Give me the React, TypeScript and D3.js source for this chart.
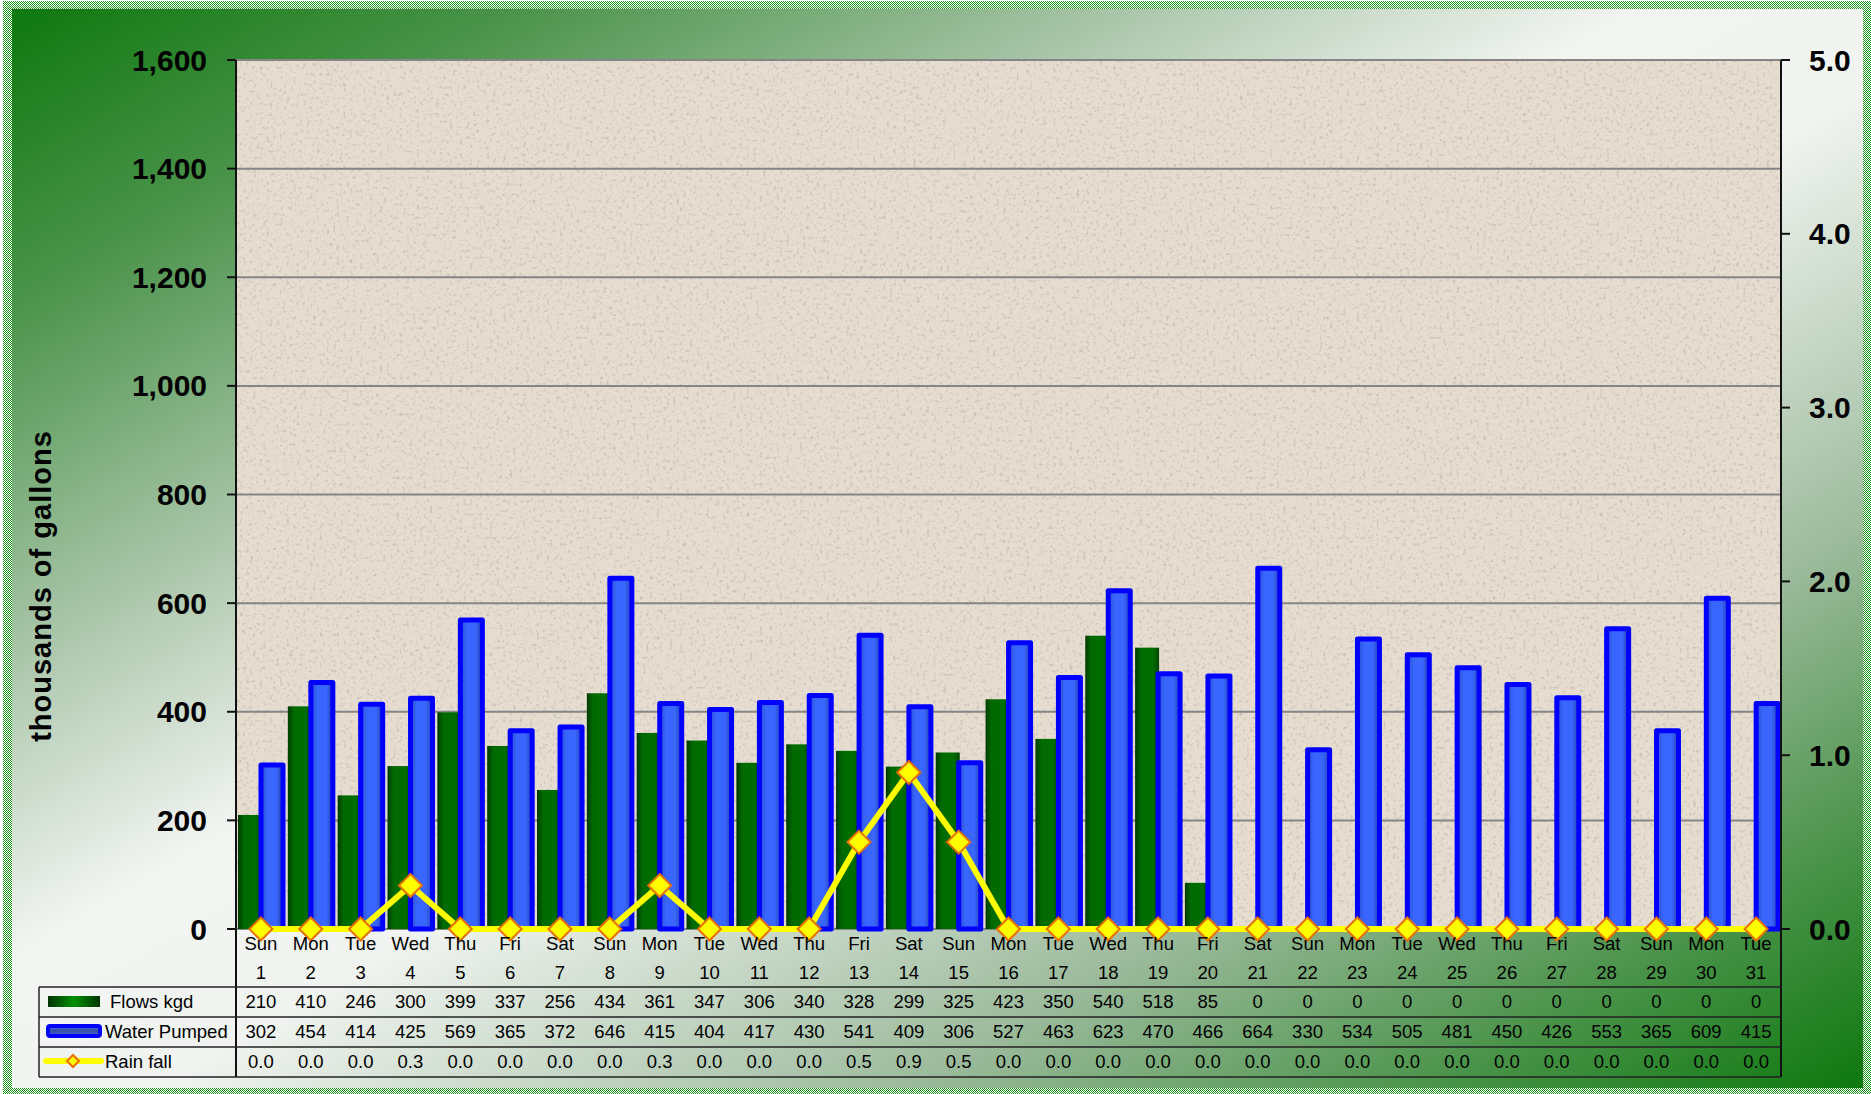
import React from 'react';
import * as d3 from 'd3';

// month of daily readings
const days = [
  'Sun', 'Mon', 'Tue', 'Wed', 'Thu', 'Fri', 'Sat',
  'Sun', 'Mon', 'Tue', 'Wed', 'Thu', 'Fri', 'Sat',
  'Sun', 'Mon', 'Tue', 'Wed', 'Thu', 'Fri', 'Sat',
  'Sun', 'Mon', 'Tue', 'Wed', 'Thu', 'Fri', 'Sat',
  'Sun', 'Mon', 'Tue',
];
const dates = [
  '1', '2', '3', '4', '5', '6', '7', '8', '9', '10', '11', '12', '13', '14', '15', '16',
  '17', '18', '19', '20', '21', '22', '23', '24', '25', '26', '27', '28', '29', '30', '31',
];
const flows = [
  210, 410, 246, 300, 399, 337, 256, 434, 361, 347, 306, 340, 328, 299, 325, 423,
  350, 540, 518, 85, 0, 0, 0, 0, 0, 0, 0, 0, 0, 0, 0,
];
const pumped = [
  302, 454, 414, 425, 569, 365, 372, 646, 415, 404, 417, 430, 541, 409, 306, 527,
  463, 623, 470, 466, 664, 330, 534, 505, 481, 450, 426, 553, 365, 609, 415,
];
const rain = [
  0, 0, 0, 0.25, 0, 0, 0, 0, 0.25, 0, 0, 0, 0.5, 0.9, 0.5, 0,
  0, 0, 0, 0, 0, 0, 0, 0, 0, 0, 0, 0, 0, 0, 0,
];
const leftTicks = [0, 200, 400, 600, 800, 1000, 1200, 1400, 1600];
const rightTicks = [0, 1, 2, 3, 4, 5];

const W = 1871;
const H = 1094;
const FONT = '"Liberation Sans", Arial, sans-serif';

const Diamond = ({ x, y, r }: { x: number; y: number; r: number }) => (
  <path
    d={`M${x},${y - r}L${x + r},${y}L${x},${y + r}L${x - r},${y}Z`}
    fill="#ffff00"
    stroke="#e87000"
    strokeWidth={2}
  />
);

const App = () => {
  const left = 236;
  const right = 1781;
  const top = 60;
  const bottom = 929;
  const tableTop = 987;
  const rowH = 30;
  const tableLeft = 39;

  const x = d3.scaleBand<number>().domain(d3.range(days.length)).range([left, right]).padding(0);
  const bw = x.bandwidth();
  const y = d3.scaleLinear().domain([0, 1600]).range([bottom, top]);
  const y2 = d3.scaleLinear().domain([0, 5]).range([bottom, top]);

  const rainLine = d3
    .line<number>()
    .x((_, i) => (x(i) as number) + bw / 2)
    .y((d) => y2(d));

  const fmtLeft = d3.format(',');
  const tableEnd = tableTop + rowH * 3;

  return (
    <svg
      width={W}
      height={H}
      style={{ position: 'absolute', left: 0, top: 0, fontFamily: FONT }}
    >
      <defs>
        <pattern id="checker" width={2} height={2} patternUnits="userSpaceOnUse">
          <rect width={2} height={2} fill="#ffffff" />
          <rect width={1} height={1} fill="#1e961e" />
          <rect x={1} y={1} width={1} height={1} fill="#1e961e" />
        </pattern>
        <linearGradient id="bg" x1="0" y1="0" x2="1" y2="1">
          <stop offset="0" stopColor="#0e780e" />
          <stop offset="0.14" stopColor="#4c944c" />
          <stop offset="0.3" stopColor="#a9c5a9" />
          <stop offset="0.44" stopColor="#f3f5f3" />
          <stop offset="0.54" stopColor="#f0f3f0" />
          <stop offset="0.74" stopColor="#9dbb9d" />
          <stop offset="0.88" stopColor="#4c944c" />
          <stop offset="1" stopColor="#0e780e" />
        </linearGradient>
        <linearGradient id="greenBar" x1="0" y1="0" x2="1" y2="0">
          <stop offset="0" stopColor="#003a00" />
          <stop offset="0.25" stopColor="#006a00" />
          <stop offset="0.75" stopColor="#006e00" />
          <stop offset="1" stopColor="#004400" />
        </linearGradient>
        <linearGradient id="greenSwatch" x1="0" y1="0" x2="1" y2="0">
          <stop offset="0" stopColor="#003300" />
          <stop offset="0.5" stopColor="#009000" />
          <stop offset="1" stopColor="#003300" />
        </linearGradient>
        <linearGradient id="blueBar" x1="0" y1="0" x2="1" y2="0">
          <stop offset="0" stopColor="#2a4fc8" />
          <stop offset="0.3" stopColor="#3866ff" />
          <stop offset="0.7" stopColor="#3866ff" />
          <stop offset="1" stopColor="#2440a8" />
        </linearGradient>
        <linearGradient id="blueSwatch" x1="0" y1="0" x2="0" y2="1">
          <stop offset="0" stopColor="#3866ff" />
          <stop offset="0.5" stopColor="#3a4f9a" />
          <stop offset="1" stopColor="#3866ff" />
        </linearGradient>
        <filter id="speckle" x="0" y="0" width="100%" height="100%">
          <feTurbulence type="fractalNoise" baseFrequency="0.3" numOctaves={3} seed={4} />
          <feColorMatrix
            type="matrix"
            values="0 0 0 0 0.42  0 0 0 0 0.39  0 0 0 0 0.35  3.2 0 0 0 -1.75"
          />
        </filter>
      </defs>

      {/* frame */}
      <rect x={3} y={1} width={W - 3} height={H - 1} fill="url(#checker)" />
      <rect x={12} y={9} width={1851} height={1079} fill="url(#bg)" />

      {/* plot area */}
      <rect x={left} y={top} width={right - left} height={bottom - top} fill="#e6ddd0" />
      <rect
        x={left}
        y={top}
        width={right - left}
        height={bottom - top}
        filter="url(#speckle)"
        opacity={0.55}
      />

      {/* grid */}
      {leftTicks.map((t) => (
        <line
          key={`g${t}`}
          x1={left}
          x2={right}
          y1={y(t)}
          y2={y(t)}
          stroke="#858585"
          strokeWidth={2}
        />
      ))}

      {/* bars */}
      {flows.map((v, i) =>
        v > 0 ? (
          <rect
            key={`f${i}`}
            x={(x(i) as number) + 2}
            y={y(v)}
            width={24}
            height={bottom - y(v)}
            fill="url(#greenBar)"
          />
        ) : null
      )}
      {pumped.map((v, i) => (
        <rect
          key={`p${i}`}
          x={(x(i) as number) + 25}
          y={y(v)}
          width={22}
          height={bottom - y(v)}
          fill="url(#blueBar)"
          stroke="#0000ff"
          strokeWidth={5}
          strokeLinejoin="round"
        />
      ))}

      {/* rain line */}
      <path d={rainLine(rain) || ''} fill="none" stroke="#ffff00" strokeWidth={6} strokeLinejoin="round" />
      {rain.map((v, i) => (
        <Diamond key={`r${i}`} x={(x(i) as number) + bw / 2} y={y2(v)} r={11.5} />
      ))}

      {/* axes */}
      <line x1={left} x2={left} y1={top} y2={tableEnd} stroke="#111" strokeWidth={2} />
      <line x1={right} x2={right} y1={top} y2={tableEnd} stroke="#111" strokeWidth={2} />
      {leftTicks.map((t) => (
        <g key={`lt${t}`}>
          <line x1={227} x2={left} y1={y(t)} y2={y(t)} stroke="#111" strokeWidth={2} />
          <text
            x={207}
            y={y(t)}
            textAnchor="end"
            dominantBaseline="central"
            fontSize={30}
            fontWeight="bold"
          >
            {fmtLeft(t)}
          </text>
        </g>
      ))}
      {rightTicks.map((t) => (
        <g key={`rt${t}`}>
          <line x1={right} x2={1790} y1={y2(t)} y2={y2(t)} stroke="#111" strokeWidth={2} />
          <text
            x={1809}
            y={y2(t)}
            dominantBaseline="central"
            fontSize={30}
            fontWeight="bold"
          >
            {t.toFixed(1)}
          </text>
        </g>
      ))}
      <text
        transform="translate(51,586) rotate(-90)"
        textAnchor="middle"
        fontSize={29}
        fontWeight="bold"
        letterSpacing={1}
      >
        thousands of gallons
      </text>

      {/* category labels */}
      {days.map((d, i) => (
        <g key={`c${i}`}>
          <text x={(x(i) as number) + bw / 2} y={950} textAnchor="middle" fontSize={18.5}>
            {d}
          </text>
          <text x={(x(i) as number) + bw / 2} y={979} textAnchor="middle" fontSize={18.5}>
            {dates[i]}
          </text>
        </g>
      ))}

      {/* data table */}
      {[0, 1, 2, 3].map((r) => (
        <line
          key={`tl${r}`}
          x1={tableLeft}
          x2={right}
          y1={tableTop + r * rowH}
          y2={tableTop + r * rowH}
          stroke="#222"
          strokeWidth={1.5}
        />
      ))}
      <line x1={tableLeft} x2={tableLeft} y1={tableTop} y2={tableEnd} stroke="#222" strokeWidth={1.5} />
      {flows.map((v, i) => (
        <text key={`tf${i}`} x={(x(i) as number) + bw / 2} y={1008} textAnchor="middle" fontSize={18.5}>
          {v}
        </text>
      ))}
      {pumped.map((v, i) => (
        <text key={`tp${i}`} x={(x(i) as number) + bw / 2} y={1038} textAnchor="middle" fontSize={18.5}>
          {v}
        </text>
      ))}
      {rain.map((v, i) => (
        <text key={`tr${i}`} x={(x(i) as number) + bw / 2} y={1068} textAnchor="middle" fontSize={18.5}>
          {v.toFixed(1)}
        </text>
      ))}

      {/* legend keys */}
      <rect x={48} y={996} width={52} height={11} fill="url(#greenSwatch)" />
      <text x={110} y={1008} fontSize={18.5}>Flows kgd</text>
      <rect
        x={48}
        y={1026}
        width={52}
        height={10}
        rx={2}
        fill="url(#blueSwatch)"
        stroke="#0000ff"
        strokeWidth={4}
      />
      <text x={105} y={1038} fontSize={18.5}>Water Pumped</text>
      <line x1={46} x2={101} y1={1061} y2={1061} stroke="#ffff00" strokeWidth={6} strokeLinecap="round" />
      <path d="M73,1055L79,1061L73,1067L67,1061Z" fill="#ffff00" stroke="#e87000" strokeWidth={2} />
      <text x={105} y={1068} fontSize={18.5}>Rain fall</text>
    </svg>
  );
};

export default App;
